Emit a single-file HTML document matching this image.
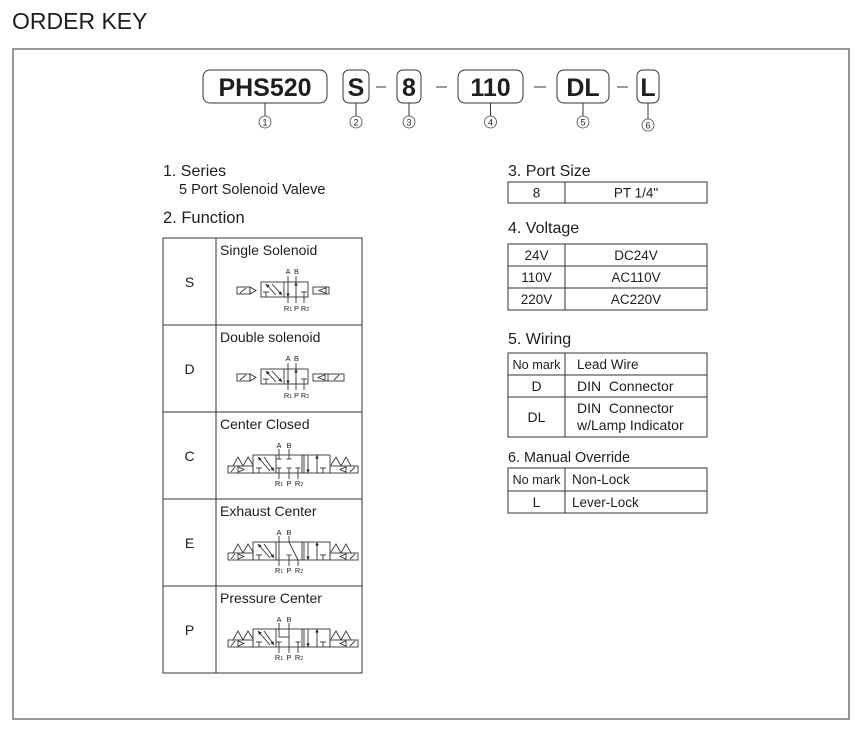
<!DOCTYPE html>
<html>
<head>
<meta charset="utf-8">
<style>
  html,body{margin:0;padding:0;background:#fff;}
  body{width:868px;height:741px;overflow:hidden;}
  svg{display:block;}
  text{font-family:"Liberation Sans", Arial, sans-serif;fill:#1e1e1e;}
</style>
</head>
<body>
<svg width="868" height="741" viewBox="0 0 868 741" xmlns="http://www.w3.org/2000/svg">
  <defs>
    <marker id="ah" viewBox="0 0 6 6" refX="6" refY="3" markerWidth="4" markerHeight="4" orient="auto">
      <path d="M0,0 L6,3 L0,6 z" fill="#222"/>
    </marker>
  </defs>

  <!-- Title -->
  <text x="12" y="29" font-size="23">ORDER KEY</text>

  <!-- Outer frame -->
  <rect x="13" y="49" width="836" height="670" fill="none" stroke="#8a8a8a" stroke-width="1.8"/>

  <!-- Code boxes -->
  <g fill="none" stroke="#333" stroke-width="1">
    <rect x="203" y="70" width="124" height="33" rx="7"/>
    <rect x="343" y="70" width="26" height="33" rx="6"/>
    <rect x="397" y="70" width="24" height="33" rx="6"/>
    <rect x="458" y="70" width="65" height="33" rx="7"/>
    <rect x="557" y="70" width="52" height="33" rx="7"/>
    <rect x="637" y="70" width="22" height="33" rx="6"/>
    <!-- dashes -->
    <line x1="376" y1="87" x2="386" y2="87"/>
    <line x1="436" y1="87" x2="447" y2="87"/>
    <line x1="534" y1="87" x2="546" y2="87"/>
    <line x1="617" y1="87" x2="628" y2="87"/>
    <!-- leader lines -->
    <line x1="265" y1="103" x2="265" y2="116"/>
    <line x1="356" y1="103" x2="356" y2="116"/>
    <line x1="409" y1="103" x2="409" y2="116"/>
    <line x1="490.5" y1="103" x2="490.5" y2="116"/>
    <line x1="583" y1="103" x2="583" y2="116"/>
    <line x1="648" y1="103" x2="648" y2="119"/>
  </g>
  <g font-weight="bold" font-size="25" text-anchor="middle">
    <text x="265" y="96">PHS520</text>
    <text x="356" y="96">S</text>
    <text x="409" y="96">8</text>
    <text x="490.5" y="96">110</text>
    <text x="583" y="96">DL</text>
    <text x="648" y="96">L</text>
  </g>
  <!-- circled numbers -->
  <g fill="none" stroke="#444" stroke-width="0.8">
    <circle cx="265" cy="122" r="6"/>
    <circle cx="356" cy="122" r="6"/>
    <circle cx="409" cy="122" r="6"/>
    <circle cx="490.5" cy="122" r="6"/>
    <circle cx="583" cy="122" r="6"/>
    <circle cx="648" cy="125" r="6"/>
  </g>
  <g font-size="9" text-anchor="middle">
    <text x="265" y="125.3">1</text>
    <text x="356" y="125.3">2</text>
    <text x="409" y="125.3">3</text>
    <text x="490.5" y="125.3">4</text>
    <text x="583" y="125.3">5</text>
    <text x="648" y="128.3">6</text>
  </g>

  <!-- Left headings -->
  <text x="163" y="176" font-size="16">1. Series</text>
  <text x="179" y="194" font-size="14.5" fill="#1c2540">5 Port Solenoid Valeve</text>
  <text x="163" y="223" font-size="16.5">2. Function</text>

  <!-- Function table -->
  <g fill="none" stroke="#333" stroke-width="1">
    <rect x="163" y="238" width="199" height="435"/>
    <line x1="216" y1="238" x2="216" y2="673"/>
    <line x1="163" y1="325" x2="362" y2="325"/>
    <line x1="163" y1="412" x2="362" y2="412"/>
    <line x1="163" y1="499" x2="362" y2="499"/>
    <line x1="163" y1="586" x2="362" y2="586"/>
  </g>
  <g font-size="14" text-anchor="middle">
    <text x="189.5" y="287">S</text>
    <text x="189.5" y="374">D</text>
    <text x="189.5" y="461">C</text>
    <text x="189.5" y="548">E</text>
    <text x="189.5" y="635">P</text>
  </g>
  <g font-size="14">
    <text x="220" y="255">Single Solenoid</text>
    <text x="220" y="342">Double solenoid</text>
    <text x="220" y="429">Center Closed</text>
    <text x="220" y="516">Exhaust Center</text>
    <text x="220" y="603">Pressure Center</text>
  </g>

  <!-- ===== 2-position symbols (S row t=238, D row t=325) ===== -->
  <g transform="translate(0,238)">
    <g fill="none" stroke="#333" stroke-width="0.9">
      <rect x="237" y="49" width="13" height="7"/>
      <line x1="240" y1="55" x2="246" y2="50"/>
      <polygon points="250,49 256,52.5 250,56"/>
      <rect x="261" y="44" width="47" height="15"/>
      <line x1="284" y1="44" x2="284" y2="59"/>
      <line x1="276" y1="57" x2="266" y2="46" marker-end="url(#ah)"/>
      <line x1="272" y1="46" x2="282" y2="57" marker-end="url(#ah)"/>
      <line x1="263" y1="54" x2="269" y2="54"/><line x1="266" y1="54" x2="266" y2="59"/>
      <line x1="288" y1="44" x2="288" y2="59" marker-end="url(#ah)"/>
      <line x1="296" y1="59" x2="296" y2="44" marker-end="url(#ah)"/>
      <line x1="301" y1="54" x2="307" y2="54"/><line x1="304" y1="54" x2="304" y2="59"/>
      <line x1="288" y1="38" x2="288" y2="44"/><line x1="296" y1="38" x2="296" y2="44"/>
      <line x1="288" y1="59" x2="288" y2="65"/><line x1="296" y1="59" x2="296" y2="65"/><line x1="304" y1="59" x2="304" y2="65"/>
      <rect x="313" y="49" width="16" height="7"/>
      <polygon points="326,49.8 319,52.5 326,55.2"/>
    </g>
    <g font-size="7.5" text-anchor="middle">
      <text x="288" y="36">A</text><text x="296.5" y="36">B</text>
      <text x="288" y="73">R<tspan font-size="5">1</tspan></text><text x="296.5" y="73">P</text><text x="305" y="73">R<tspan font-size="5">2</tspan></text>
    </g>
  </g>
  <g transform="translate(0,325)">
    <g fill="none" stroke="#333" stroke-width="0.9">
      <rect x="237" y="49" width="13" height="7"/>
      <line x1="240" y1="55" x2="246" y2="50"/>
      <polygon points="250,49 256,52.5 250,56"/>
      <rect x="261" y="44" width="47" height="15"/>
      <line x1="284" y1="44" x2="284" y2="59"/>
      <line x1="276" y1="57" x2="266" y2="46" marker-end="url(#ah)"/>
      <line x1="272" y1="46" x2="282" y2="57" marker-end="url(#ah)"/>
      <line x1="263" y1="54" x2="269" y2="54"/><line x1="266" y1="54" x2="266" y2="59"/>
      <line x1="288" y1="44" x2="288" y2="59" marker-end="url(#ah)"/>
      <line x1="296" y1="59" x2="296" y2="44" marker-end="url(#ah)"/>
      <line x1="301" y1="54" x2="307" y2="54"/><line x1="304" y1="54" x2="304" y2="59"/>
      <line x1="288" y1="38" x2="288" y2="44"/><line x1="296" y1="38" x2="296" y2="44"/>
      <line x1="288" y1="59" x2="288" y2="65"/><line x1="296" y1="59" x2="296" y2="65"/><line x1="304" y1="59" x2="304" y2="65"/>
      <rect x="313" y="49" width="31" height="7"/>
      <polygon points="325,49.8 318,52.5 325,55.2"/>
      <line x1="328" y1="49" x2="328" y2="56"/>
      <line x1="334" y1="55" x2="339" y2="50"/>
    </g>
    <g font-size="7.5" text-anchor="middle">
      <text x="288" y="36">A</text><text x="296.5" y="36">B</text>
      <text x="288" y="73">R<tspan font-size="5">1</tspan></text><text x="296.5" y="73">P</text><text x="305" y="73">R<tspan font-size="5">2</tspan></text>
    </g>
  </g>

  <!-- ===== 3-position symbols: C (412), E (499), P (586) ===== -->
  <!-- C -->
  <g transform="translate(0,412)">
    <g fill="none" stroke="#333" stroke-width="0.9">
      <rect x="228" y="54" width="25" height="7"/>
      <line x1="231" y1="60" x2="235" y2="55"/>
      <polygon points="238,54.8 244,57.5 238,60.2"/>
      <polyline points="233,54 238,45 243,54 248,45 253,53"/>
      <rect x="253" y="43" width="77" height="18"/>
      <line x1="276" y1="43" x2="276" y2="61"/>
      <line x1="302" y1="43" x2="302" y2="61"/><line x1="304" y1="43" x2="304" y2="61"/>
      <line x1="270" y1="59" x2="258" y2="45" marker-end="url(#ah)"/>
      <line x1="264" y1="45" x2="274" y2="59" marker-end="url(#ah)"/>
      <line x1="256" y1="56" x2="262" y2="56"/><line x1="259" y1="56" x2="259" y2="61"/>
      <!-- closed center -->
      <line x1="279" y1="43" x2="279" y2="47"/><line x1="276.5" y1="47" x2="281.5" y2="47"/>
      <line x1="289" y1="43" x2="289" y2="47"/><line x1="286.5" y1="47" x2="291.5" y2="47"/>
      <line x1="279" y1="61" x2="279" y2="56"/><line x1="276.5" y1="56" x2="281.5" y2="56"/>
      <line x1="289" y1="61" x2="289" y2="56"/><line x1="286.5" y1="56" x2="291.5" y2="56"/>
      <line x1="298" y1="61" x2="298" y2="56"/><line x1="295.5" y1="56" x2="300.5" y2="56"/>
      <!-- right square -->
      <line x1="308" y1="43" x2="308" y2="61" marker-end="url(#ah)"/>
      <line x1="317" y1="61" x2="317" y2="43" marker-end="url(#ah)"/>
      <line x1="320" y1="56" x2="326" y2="56"/><line x1="323" y1="56" x2="323" y2="61"/>
      <polyline points="331,53 336,45 341,54 346,45 351,54"/>
      <rect x="330" y="54" width="28" height="7"/>
      <polygon points="346,54.8 340,57.5 346,60.2"/>
      <line x1="350" y1="60" x2="355" y2="55"/>
      <!-- ports -->
      <line x1="279" y1="37" x2="279" y2="43"/><line x1="289" y1="37" x2="289" y2="43"/>
      <line x1="279" y1="61" x2="279" y2="67"/><line x1="289" y1="61" x2="289" y2="67"/><line x1="298" y1="61" x2="298" y2="67"/>
    </g>
    <g font-size="7.5" text-anchor="middle">
      <text x="279" y="36">A</text><text x="289" y="36">B</text>
      <text x="279" y="74">R<tspan font-size="5">1</tspan></text><text x="289" y="74">P</text><text x="299" y="74">R<tspan font-size="5">2</tspan></text>
    </g>
  </g>
  <!-- E -->
  <g transform="translate(0,499)">
    <g fill="none" stroke="#333" stroke-width="0.9">
      <rect x="228" y="54" width="25" height="7"/>
      <line x1="231" y1="60" x2="235" y2="55"/>
      <polygon points="238,54.8 244,57.5 238,60.2"/>
      <polyline points="233,54 238,45 243,54 248,45 253,53"/>
      <rect x="253" y="43" width="77" height="18"/>
      <line x1="276" y1="43" x2="276" y2="61"/>
      <line x1="302" y1="43" x2="302" y2="61"/><line x1="304" y1="43" x2="304" y2="61"/>
      <line x1="270" y1="59" x2="258" y2="45" marker-end="url(#ah)"/>
      <line x1="264" y1="45" x2="274" y2="59" marker-end="url(#ah)"/>
      <line x1="256" y1="56" x2="262" y2="56"/><line x1="259" y1="56" x2="259" y2="61"/>
      <!-- exhaust center -->
      <line x1="279" y1="43" x2="279" y2="61"/>
      <line x1="289" y1="43" x2="298" y2="61"/>
      <line x1="289" y1="61" x2="289" y2="56"/><line x1="286.5" y1="56" x2="291.5" y2="56"/>
      <!-- right square -->
      <line x1="308" y1="43" x2="308" y2="61" marker-end="url(#ah)"/>
      <line x1="317" y1="61" x2="317" y2="43" marker-end="url(#ah)"/>
      <line x1="320" y1="56" x2="326" y2="56"/><line x1="323" y1="56" x2="323" y2="61"/>
      <polyline points="331,53 336,45 341,54 346,45 351,54"/>
      <rect x="330" y="54" width="28" height="7"/>
      <polygon points="346,54.8 340,57.5 346,60.2"/>
      <line x1="350" y1="60" x2="355" y2="55"/>
      <line x1="279" y1="37" x2="279" y2="43"/><line x1="289" y1="37" x2="289" y2="43"/>
      <line x1="279" y1="61" x2="279" y2="67"/><line x1="289" y1="61" x2="289" y2="67"/><line x1="298" y1="61" x2="298" y2="67"/>
    </g>
    <g font-size="7.5" text-anchor="middle">
      <text x="279" y="36">A</text><text x="289" y="36">B</text>
      <text x="279" y="74">R<tspan font-size="5">1</tspan></text><text x="289" y="74">P</text><text x="299" y="74">R<tspan font-size="5">2</tspan></text>
    </g>
  </g>
  <!-- P -->
  <g transform="translate(0,586)">
    <g fill="none" stroke="#333" stroke-width="0.9">
      <rect x="228" y="54" width="25" height="7"/>
      <line x1="231" y1="60" x2="235" y2="55"/>
      <polygon points="238,54.8 244,57.5 238,60.2"/>
      <polyline points="233,54 238,45 243,54 248,45 253,53"/>
      <rect x="253" y="43" width="77" height="18"/>
      <line x1="276" y1="43" x2="276" y2="61"/>
      <line x1="302" y1="43" x2="302" y2="61"/><line x1="304" y1="43" x2="304" y2="61"/>
      <line x1="270" y1="59" x2="258" y2="45" marker-end="url(#ah)"/>
      <line x1="264" y1="45" x2="274" y2="59" marker-end="url(#ah)"/>
      <line x1="256" y1="56" x2="262" y2="56"/><line x1="259" y1="56" x2="259" y2="61"/>
      <!-- pressure center -->
      <line x1="279" y1="43" x2="279" y2="51"/><line x1="289" y1="43" x2="289" y2="61"/>
      <line x1="279" y1="51" x2="289" y2="51"/>
      <line x1="279" y1="61" x2="279" y2="56"/><line x1="276.5" y1="56" x2="281.5" y2="56"/>
      <line x1="298" y1="61" x2="298" y2="56"/><line x1="295.5" y1="56" x2="300.5" y2="56"/>
      <!-- right square -->
      <line x1="308" y1="43" x2="308" y2="61" marker-end="url(#ah)"/>
      <line x1="317" y1="61" x2="317" y2="43" marker-end="url(#ah)"/>
      <line x1="320" y1="56" x2="326" y2="56"/><line x1="323" y1="56" x2="323" y2="61"/>
      <polyline points="331,53 336,45 341,54 346,45 351,54"/>
      <rect x="330" y="54" width="28" height="7"/>
      <polygon points="346,54.8 340,57.5 346,60.2"/>
      <line x1="350" y1="60" x2="355" y2="55"/>
      <line x1="279" y1="37" x2="279" y2="43"/><line x1="289" y1="37" x2="289" y2="43"/>
      <line x1="279" y1="61" x2="279" y2="67"/><line x1="289" y1="61" x2="289" y2="67"/><line x1="298" y1="61" x2="298" y2="67"/>
    </g>
    <g font-size="7.5" text-anchor="middle">
      <text x="279" y="36">A</text><text x="289" y="36">B</text>
      <text x="279" y="74">R<tspan font-size="5">1</tspan></text><text x="289" y="74">P</text><text x="299" y="74">R<tspan font-size="5">2</tspan></text>
    </g>
  </g>

  <!-- ===== Right side ===== -->
  <text x="508" y="176" font-size="16">3. Port Size</text>
  <g fill="none" stroke="#333" stroke-width="1">
    <rect x="508" y="182" width="199" height="21"/>
    <line x1="565" y1="182" x2="565" y2="203"/>
  </g>
  <g font-size="13.5" text-anchor="middle">
    <text x="536.5" y="197.5">8</text>
    <text x="636" y="197.5">PT  1/4"</text>
  </g>

  <text x="508" y="233" font-size="16">4. Voltage</text>
  <g fill="none" stroke="#333" stroke-width="1">
    <rect x="508" y="244" width="199" height="66"/>
    <line x1="565" y1="244" x2="565" y2="310"/>
    <line x1="508" y1="266" x2="707" y2="266"/>
    <line x1="508" y1="288" x2="707" y2="288"/>
  </g>
  <g font-size="13.5" text-anchor="middle">
    <text x="536.5" y="260">24V</text><text x="636" y="260">DC24V</text>
    <text x="536.5" y="282">110V</text><text x="636" y="282">AC110V</text>
    <text x="536.5" y="304">220V</text><text x="636" y="304">AC220V</text>
  </g>

  <text x="508" y="344" font-size="16">5. Wiring</text>
  <g fill="none" stroke="#333" stroke-width="1">
    <rect x="508" y="353" width="199" height="84"/>
    <line x1="565" y1="353" x2="565" y2="437"/>
    <line x1="508" y1="375" x2="707" y2="375"/>
    <line x1="508" y1="397" x2="707" y2="397"/>
  </g>
  <text x="536.5" y="369" font-size="13" text-anchor="middle" textLength="48" lengthAdjust="spacingAndGlyphs">No mark</text>
  <text x="536.5" y="391" font-size="14" text-anchor="middle">D</text>
  <text x="536.5" y="422" font-size="14" text-anchor="middle">DL</text>
  <text x="577" y="369" font-size="13.5">Lead Wire</text>
  <text x="577" y="391" font-size="14" xml:space="preserve">DIN  Connector</text>
  <text x="577" y="413" font-size="14" xml:space="preserve">DIN  Connector</text>
  <text x="577" y="430" font-size="14" fill="#1c2540">w/Lamp  Indicator</text>

  <text x="508" y="462" font-size="15" textLength="122" lengthAdjust="spacingAndGlyphs">6. Manual Override</text>
  <g fill="none" stroke="#333" stroke-width="1">
    <rect x="508" y="468" width="199" height="45"/>
    <line x1="565" y1="468" x2="565" y2="513"/>
    <line x1="508" y1="491" x2="707" y2="491"/>
  </g>
  <text x="536.5" y="484" font-size="13" text-anchor="middle" textLength="48" lengthAdjust="spacingAndGlyphs">No mark</text>
  <text x="536.5" y="507" font-size="14" text-anchor="middle">L</text>
  <text x="572" y="484" font-size="13.5">Non-Lock</text>
  <text x="572" y="507" font-size="13.5">Lever-Lock</text>
</svg>
</body>
</html>
